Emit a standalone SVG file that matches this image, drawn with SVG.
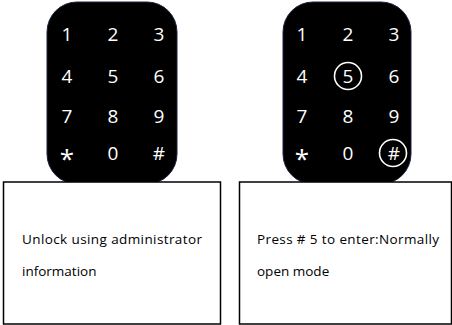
<svg xmlns="http://www.w3.org/2000/svg" width="452" height="325" viewBox="0 0 452 325">
<style>
.pad{fill:#000;stroke:#1a2340;stroke-width:1}
.key{font-family:"Open Sans","DejaVu Sans",sans-serif;font-size:19px;fill:#fff;text-anchor:middle}
.star{font-size:26px}
.ring{fill:none;stroke:#fff;stroke-width:1.6}
.box{fill:#fff;stroke:#000;stroke-width:1.5}
.lbl{font-family:"Open Sans","DejaVu Sans",sans-serif;font-size:13.5px;fill:#000}
</style>
<rect width="452" height="325" fill="#fff"/>
<g id="keypad-left">
<rect class="pad" x="47" y="2" width="130" height="182" rx="30" ry="30"/>
<text class="key" x="67" y="41">1</text><text class="key" x="113" y="41">2</text><text class="key" x="159" y="41">3</text>
<text class="key" x="67" y="83">4</text><text class="key" x="113" y="83">5</text><text class="key" x="159" y="83">6</text>
<text class="key" x="67" y="123">7</text><text class="key" x="113" y="123">8</text><text class="key" x="159" y="123">9</text>
<text class="key star" x="67" y="168">*</text><text class="key" x="113" y="160">0</text><text class="key" x="159" y="160">#</text>
</g>
<g id="keypad-right">
<rect class="pad" x="283" y="2" width="128" height="182" rx="30" ry="30"/>
<text class="key" x="302" y="41">1</text><text class="key" x="348" y="41">2</text><text class="key" x="394" y="41">3</text>
<text class="key" x="302" y="83">4</text><text class="key" x="348" y="83">5</text><text class="key" x="394" y="83">6</text>
<text class="key" x="302" y="123">7</text><text class="key" x="348" y="123">8</text><text class="key" x="394" y="123">9</text>
<text class="key star" x="302" y="168">*</text><text class="key" x="348" y="160">0</text><text class="key" x="394" y="160">#</text>
<circle class="ring" cx="348" cy="76" r="13.5"/>
<circle class="ring" cx="393" cy="153" r="13.5"/>
</g>
<g id="box-left">
<rect class="box" x="3.5" y="182" width="217" height="142"/>
<text class="lbl" x="22" y="244" textLength="180" lengthAdjust="spacing">Unlock using administrator</text>
<text class="lbl" x="22" y="276">information</text>
</g>
<g id="box-right">
<rect class="box" x="239.5" y="182" width="212" height="142"/>
<text class="lbl" x="257" y="244" textLength="182" lengthAdjust="spacing">Press # 5 to enter:Normally</text>
<text class="lbl" x="257" y="276">open mode</text>
</g>
<g id="connectors"/>
</svg>
